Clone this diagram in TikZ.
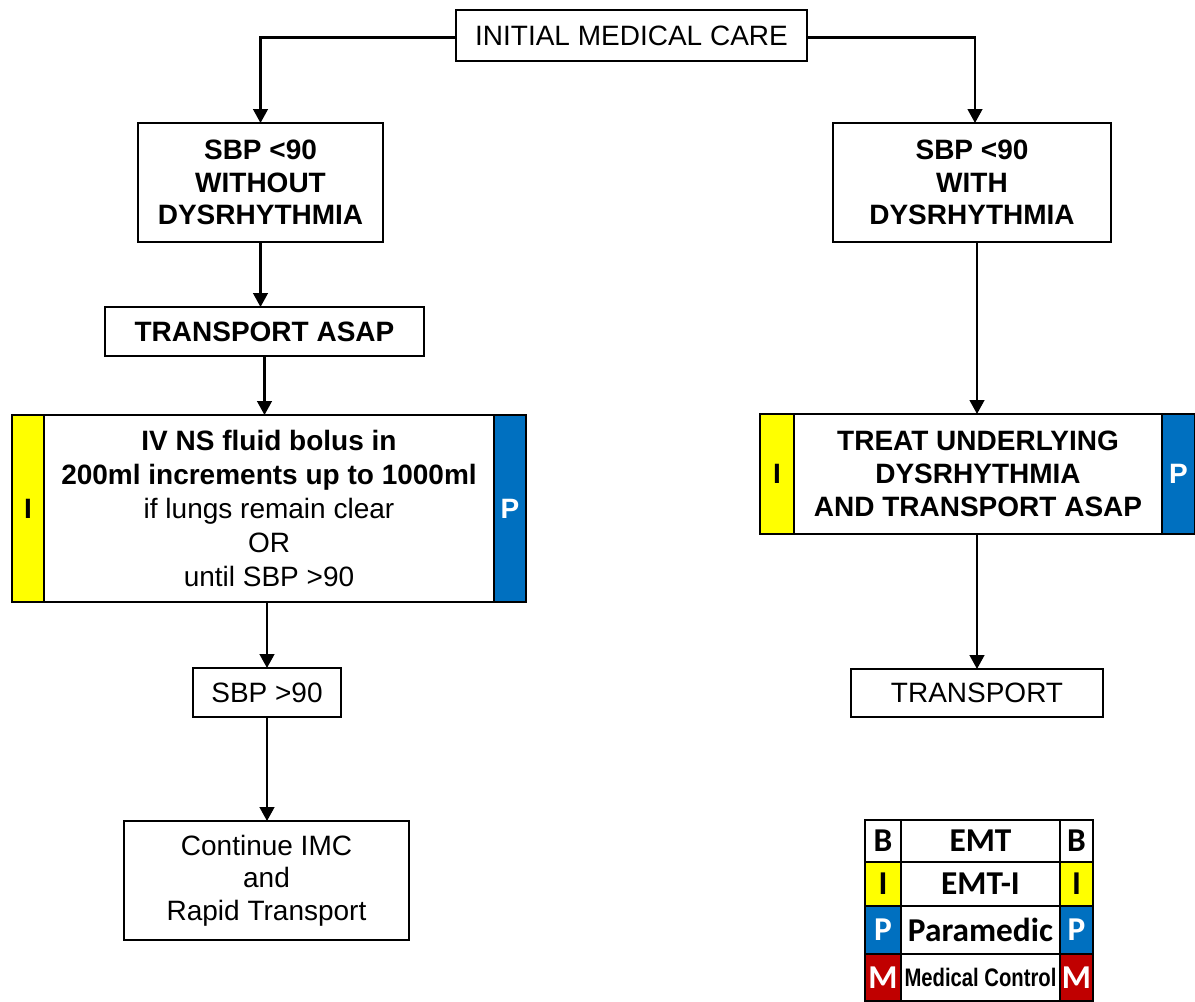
\documentclass[tikz,border=0pt]{standalone}
\usepackage{fontspec}
\setmainfont{Liberation Sans}
\newfontfamily\calib{Carlito}
\usetikzlibrary{arrows.meta}
\definecolor{iyel}{HTML}{FFFF00}
\definecolor{pblue}{HTML}{0070C0}
\definecolor{mred}{HTML}{C00000}
\tikzset{
  box/.style={draw, line width=1.7pt, inner sep=0pt, outer sep=0pt, align=center, fill=white,
    font=\fontsize{21}{25}\selectfont},
  bbox/.style={box, font=\fontsize{21}{24.5}\selectfont\bfseries},
  strip/.style={draw, line width=1.7pt, inner sep=0pt, outer sep=0pt,
    font=\fontsize{21}{25}\selectfont\bfseries},
  ystrip/.style={strip, fill=iyel, text=black},
  bstrip/.style={strip, fill=pblue, text=white},
  arr/.style={line width=1.8pt, -{Triangle[length=10.5pt,width=11pt]}},
  lcell/.style={draw, line width=1.7pt, inner sep=0pt, outer sep=0pt, align=center,
    font=\calib\fontsize{25}{25}\selectfont\bfseries},
}
\begin{document}
\begin{tikzpicture}[x=0.75pt,y=-0.75pt]
\useasboundingbox (0,0) rectangle (1195,1001);
\fill[white] (0,0) rectangle (1195,1001);

% main boxes
\node[box, minimum width=263.25pt, minimum height=38.25pt] (init) at (631.5,35.5) {INITIAL MEDICAL CARE};
\node[bbox, minimum width=183.75pt, minimum height=89.25pt] (sbpL) at (260.5,182.5) {SBP <90\\WITHOUT\\DYSRHYTHMIA};
\node[bbox, minimum width=208.5pt, minimum height=89.25pt] (sbpR) at (972,182.5) {SBP <90\\WITH\\DYSRHYTHMIA};
\node[bbox, minimum width=239.25pt, minimum height=36.75pt] (asap) at (264.5,331.5) {TRANSPORT ASAP};

\node[box, minimum width=337.5pt, minimum height=140.25pt, font=\fontsize{21}{25.5}\selectfont] (iv) at (269,508.5)
  {\textbf{IV NS fluid bolus in}\\\textbf{200ml increments up to 1000ml}\\if lungs remain clear\\OR\\until SBP >90};
\node[ystrip, minimum width=24pt, minimum height=140.25pt] (ivI) at (28,508.5) {I};
\node[bstrip, minimum width=24pt, minimum height=140.25pt] (ivP) at (510,508.5) {P};

\node[box, minimum width=111pt, minimum height=36.75pt] (sbp90) at (267,692.5) {SBP >90};
\node[box, minimum width=213.75pt, minimum height=89.25pt, font=\fontsize{21}{24.5}\selectfont] (cont) at (266.5,880.5) {Continue IMC\\and\\Rapid Transport};

\node[bbox, minimum width=276pt, minimum height=90pt] (treat) at (978,474) {TREAT UNDERLYING\\DYSRHYTHMIA\\AND TRANSPORT ASAP};
\node[ystrip, minimum width=25.5pt, minimum height=90pt] (trI) at (777,474) {I};
\node[bstrip, minimum width=24.75pt, minimum height=90pt] (trP) at (1178.5,474) {P};

\node[box, minimum width=189pt, minimum height=36pt] (trans) at (977,693) {TRANSPORT};

% connectors
\draw[arr] ([yshift=-1.5pt]init.west) -| (sbpL.north);
\draw[arr] ([yshift=-1.5pt]init.east) -| ([xshift=2.25pt]sbpR.north);
\draw[arr] (sbpL.south) -- (sbpL.south |- asap.north);
\draw[arr] (asap.south) -- (asap.south |- iv.north);
\draw[arr] (sbp90.north |- iv.south) -- (sbp90.north);
\draw[arr] (sbp90.south) -- (sbp90.south |- cont.north);
\draw[arr] (trans.north |- sbpR.south) -- (trans.north |- treat.north);
\draw[arr] (trans.north |- treat.south) -- (trans.north);

% legend
\node[lcell, minimum width=27pt, minimum height=31.5pt] (lB1) at (883,841) {B};
\node[lcell, minimum width=119.25pt, minimum height=31.5pt] (lEMT) at (980.5,841) {EMT};
\node[lcell, minimum width=24.75pt, minimum height=31.5pt] (lB2) at (1076.5,841) {B};

\node[lcell, fill=iyel, minimum width=27pt, minimum height=33pt] (lI1) at (883,884) {I};
\node[lcell, minimum width=119.25pt, minimum height=33pt] (lEMTI) at (980.5,884) {EMT-I};
\node[lcell, fill=iyel, minimum width=24.75pt, minimum height=33pt] (lI2) at (1076.5,884) {I};

\node[lcell, fill=pblue, text=white, minimum width=27pt, minimum height=36pt] (lP1) at (883,930) {P};
\node[lcell, minimum width=119.25pt, minimum height=36pt] (lPara) at (980.5,930) {Paramedic};
\node[lcell, fill=pblue, text=white, minimum width=24.75pt, minimum height=36pt] (lP2) at (1076.5,930) {P};

\node[lcell, fill=mred, text=white, minimum width=27pt, minimum height=35.25pt] (lM1) at (883,977.5) {M};
\node[lcell, minimum width=119.25pt, minimum height=35.25pt, font=\fontsize{19}{19}\selectfont\bfseries] (lMC) at (980.5,977.5) {\scalebox{0.8}[1]{Medical Control}};
\node[lcell, fill=mred, text=white, minimum width=24.75pt, minimum height=35.25pt] (lM2) at (1076.5,977.5) {M};
\end{tikzpicture}
\end{document}
